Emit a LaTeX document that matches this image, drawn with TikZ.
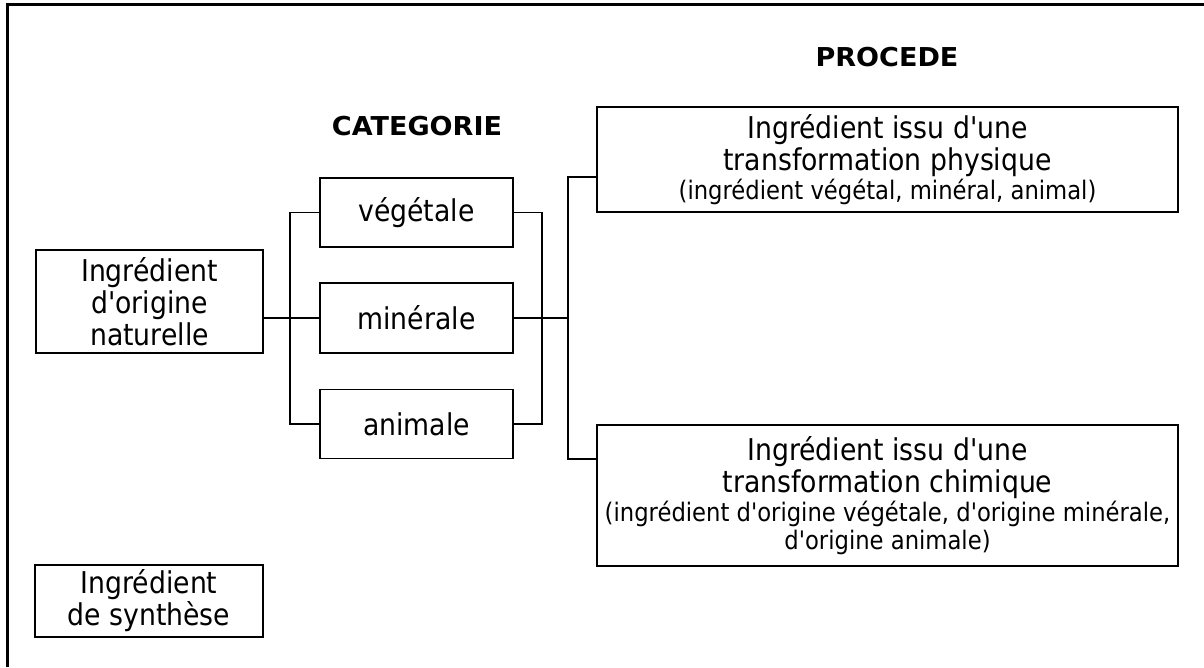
\documentclass[tikz,border=0pt]{standalone}
\usepackage{fontspec}
\setmainfont{DejaVu Sans}[FakeStretch=0.89, Ligatures=TeXOff]
\newfontfamily\headfont{DejaVu Sans}[FakeStretch=1.04]
\newcommand\bigf{\fontsize{30}{32}\selectfont}
\newcommand\smallf{\fontsize{25.5}{28}\selectfont}
\begin{document}
\begin{tikzpicture}[x=1pt,y=-1pt,
  box/.style={draw,line width=1.7pt,rectangle,inner sep=0pt,align=center,font=\bigf},
  conn/.style={line width=1.7pt},
  head/.style={font=\headfont\bfseries\fontsize{26}{28}\selectfont,inner sep=0pt}]
\useasboundingbox (0,0) rectangle (1204,667);
% frame (top and left only)
\draw[line width=3pt] (7,667) -- (7,4.5) -- (1204,4.5);
% headings
\node[head] (proc) at (887,57) {PROCEDE};
\node[head] (cat) at (417,126) {CATEGORIE};
% boxes
\node[box,minimum width=227pt,minimum height=103pt] (nat) at (149.5,301.5) {Ingrédient\\d'origine\\naturelle};
\node[box,minimum width=193pt,minimum height=69pt] (veg) at (416.5,212.5) {végétale};
\node[box,minimum width=193pt,minimum height=70pt] (min) at (416.5,318) {minérale};
\node[box,minimum width=193pt,minimum height=69pt] (ani) at (416.5,424) {animale};
\node[box,minimum width=228pt,minimum height=72pt] (syn) at (149,601) {Ingrédient\\de synthèse};
\node[box,minimum width=581pt,minimum height=105pt] (phys) at (887.5,159.5)
  {Ingrédient issu d'une\\transformation physique\\[-3pt]{\smallf (ingrédient végétal, minéral, animal)}};
\node[box,minimum width=581pt,minimum height=141pt] (chim) at (887.5,495.5)
  {Ingrédient issu d'une\\transformation chimique\\[-3pt]{\smallf (ingrédient d'origine végétale, d'origine minérale,}\\[-4pt]{\smallf d'origine animale)}};
% connectors
\coordinate (hubtop) at (568,177);
\coordinate (hubbot) at (568,459);
\draw[conn] (nat.east |- min.west) -- (min.west);
\draw[conn] (veg.west) -- ++(-29,0) |- (ani.west);
\draw[conn] (veg.east) -- ++(28,0) |- (ani.east);
\draw[conn] (min.east) -- (min.east -| hubtop);
\draw[conn] (phys.west |- hubtop) -- (hubtop) -- (hubbot) -- (chim.west |- hubbot);
\end{tikzpicture}
\end{document}
